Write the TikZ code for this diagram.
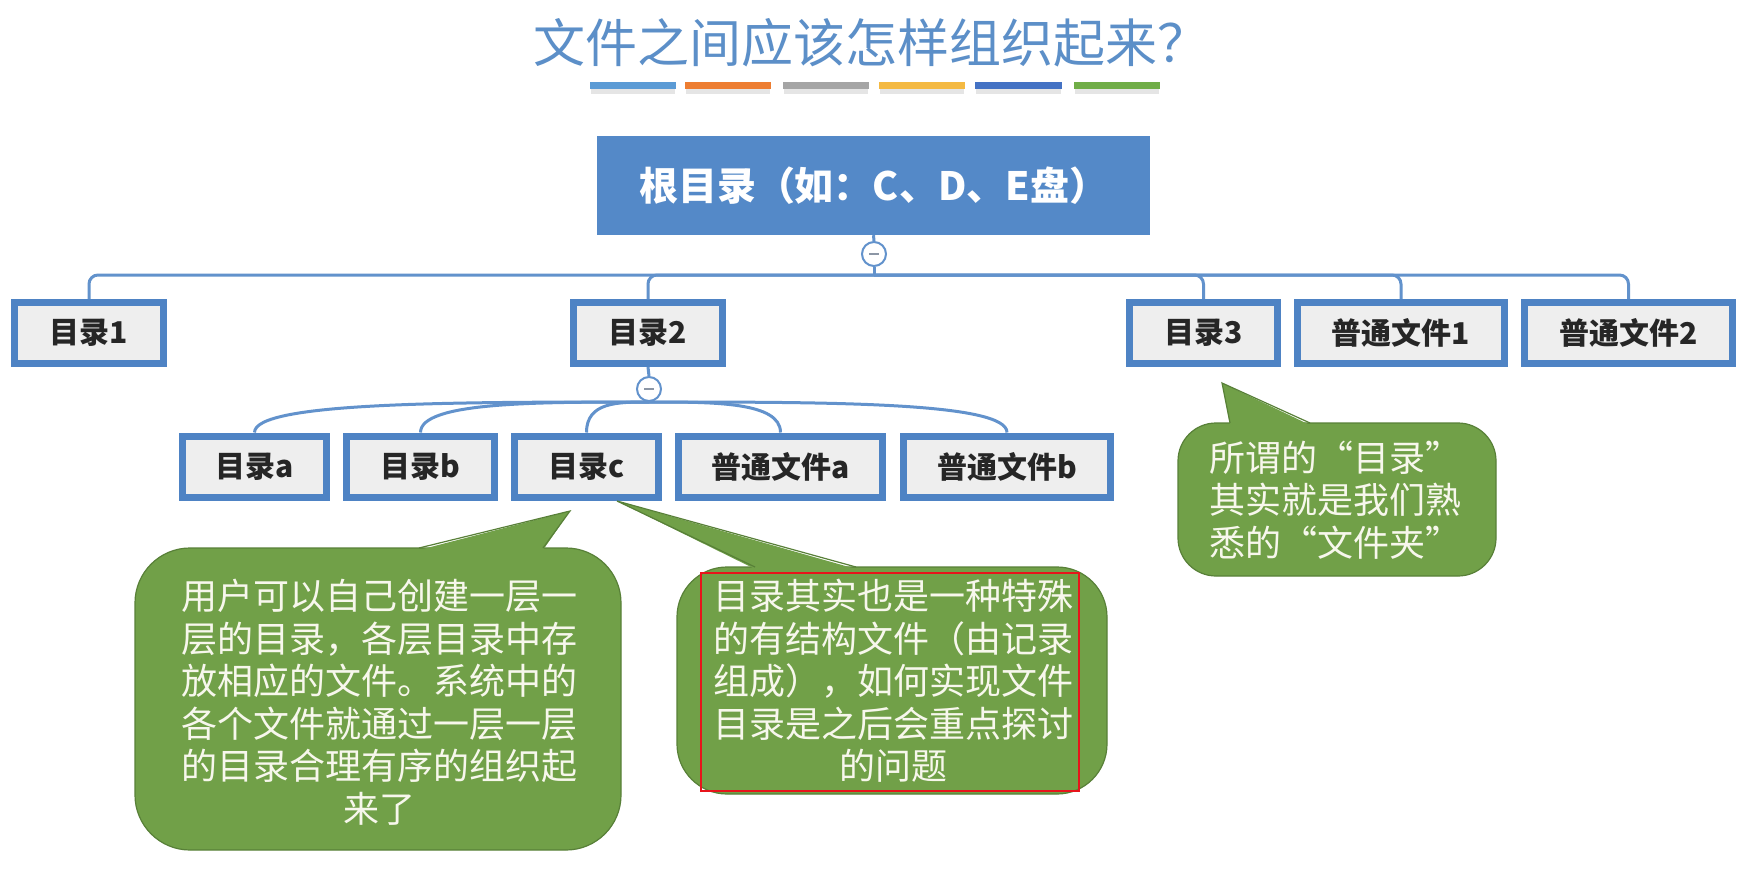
\documentclass[tikz,border=0pt]{standalone}
\usepackage{fontspec}
\setmainfont{Noto Sans CJK SC}
\usetikzlibrary{calc}

\definecolor{linkblue}{RGB}{98,146,204}
\definecolor{boxblue}{RGB}{78,131,196}
\definecolor{boxfill}{RGB}{238,238,238}
\definecolor{rootblue}{RGB}{84,137,200}
\definecolor{notegreen}{RGB}{113,160,72}
\definecolor{noteedge}{RGB}{88,128,56}
\definecolor{notetext}{RGB}{247,247,236}
\definecolor{titleblue}{RGB}{92,143,200}
\definecolor{minusgray}{RGB}{140,150,165}
\definecolor{barA}{RGB}{91,155,213}
\definecolor{barB}{RGB}{237,125,49}
\definecolor{barC}{RGB}{165,165,165}
\definecolor{barD}{RGB}{244,185,66}
\definecolor{barE}{RGB}{68,114,196}
\definecolor{barF}{RGB}{112,173,71}
\definecolor{framered}{RGB}{232,20,27}

\tikzset{
  rootbox/.style={fill=rootblue, minimum width=553pt, minimum height=99pt,
    inner sep=0pt, text=white, font=\fontsize{39}{42}\selectfont\bfseries},
  dirbox/.style={draw=boxblue, line width=7pt, fill=boxfill, inner sep=0pt,
    minimum height=61pt, text=black!85, font=\fontsize{30}{32}\selectfont\bfseries},
  toggle/.style={circle, draw=linkblue, line width=2pt, fill=white,
    minimum size=24pt, inner sep=0pt,
    path picture={\draw[minusgray, line width=2.5pt]
      ([xshift=-5pt]path picture bounding box.center) --
      ([xshift=5pt]path picture bounding box.center);}},
  link/.style={draw=linkblue, line width=3pt},
  notebody/.style={fill=notegreen, draw=noteedge, line width=1.2pt},
  notetip/.style={draw=noteedge, line width=1.2pt},
  notetextstyle/.style={text=notetext, align=center, inner sep=0pt,
    font=\fontsize{36}{42.5}\selectfont},
  titlestyle/.style={text=titleblue, inner sep=0pt, font=\fontsize{52}{58}\selectfont},
}

\begin{document}
\begin{tikzpicture}[x=1pt, y=-1pt]
\useasboundingbox (0,0) rectangle (1754,894);
\fill[white] (0,0) rectangle (1754,894);

% heading and coloured rule
\node[titlestyle] (title) at (871,43) {文件之间应该怎样组织起来？};
\foreach \xa/\xb/\c in {590/676/barA, 685/771/barB, 783/869/barC,
                        879/965/barD, 975/1062/barE, 1074/1160/barF} {
  \fill[black!10] (\xa+1,89) rectangle (\xb-1,94);
  \fill[\c] (\xa,82) rectangle (\xb,89);
}

% root
\node[rootbox] (root) at (873.5,185.5) {根目录（如：C、D、E盘）};
\node[toggle] (t1) at (874,254) {};

% first level
\node[dirbox, minimum width=149pt] (d1) at (89,333) {目录1};
\node[dirbox, minimum width=149pt] (d2) at (648,333) {目录2};
\node[dirbox, minimum width=148pt] (d3) at (1203.5,333) {目录3};
\node[dirbox, minimum width=207pt] (f1) at (1401,333) {普通文件1};
\node[dirbox, minimum width=208pt] (f2) at (1628.5,333) {普通文件2};

\coordinate (bus) at (874,275);
\draw[link] (root.south) -- (t1.north);
\draw[link] (t1.south) -- (bus);
\foreach \n in {d1,d2,d3,f1,f2}
  \draw[link, rounded corners=9pt] (bus) -| (\n.north);

% second level under 目录2
\node[toggle] (t2) at (649,389) {};
\draw[link] (d2.south) -- (t2.north);

\node[dirbox, minimum width=144pt] (da) at (254.5,466.5) {目录a};
\node[dirbox, minimum width=148pt] (db) at (420.5,466.5) {目录b};
\node[dirbox, minimum width=144pt] (dc) at (586.5,466.5) {目录c};
\node[dirbox, minimum width=204pt] (fa) at (780.5,466.5) {普通文件a};
\node[dirbox, minimum width=207pt] (fb) at (1007,466.5) {普通文件b};

\foreach \n in {da,db,dc,fa,fb}
  \draw[link] (t2.south) .. controls ($(t2.south)!0.5!(t2.south -| \n.north)$)
    and (t2.south -| \n.north) .. (\n.north);

% note under 目录c (left)
\draw[notebody, rounded corners=55pt] (135,548) rectangle (621,850);
\fill[notegreen] (419,550) -- (570,511) -- (543,550) -- cycle;
\draw[notetip] (419,548) -- (570,511) -- (543,548);
\node[notetextstyle] (n1) at (379,702)
  {用户可以自己创建一层一\\层的目录，各层目录中存\\放相应的文件。系统中的\\各个文件就通过一层一层\\的目录合理有序的组织起\\来了};

% note under 目录c (right)
\draw[notebody, rounded corners=50pt] (677,567) rectangle (1107,794);
\fill[notegreen] (755,569) -- (617,501) -- (856,569) -- cycle;
\draw[notetip] (755,567) -- (617,501) -- (856,567);
\draw[framered, line width=1.6pt] (701,573) rectangle (1079,791);
\node[notetextstyle] (n2) at (893,681)
  {目录其实也是一种特殊\\的有结构文件（由记录\\组成），如何实现文件\\目录是之后会重点探讨\\的问题};

% note under 目录3
\draw[notebody, rounded corners=38pt] (1178,423) rectangle (1496,576);
\fill[notegreen] (1230,425) -- (1222,383) -- (1310,425) -- cycle;
\draw[notetip] (1230,423) -- (1222,383) -- (1310,423);
\node[notetextstyle] (n3) at (1335,500)
  {所谓的“目录”\\其实就是我们熟\\悉的“文件夹”};
\end{tikzpicture}
\end{document}
